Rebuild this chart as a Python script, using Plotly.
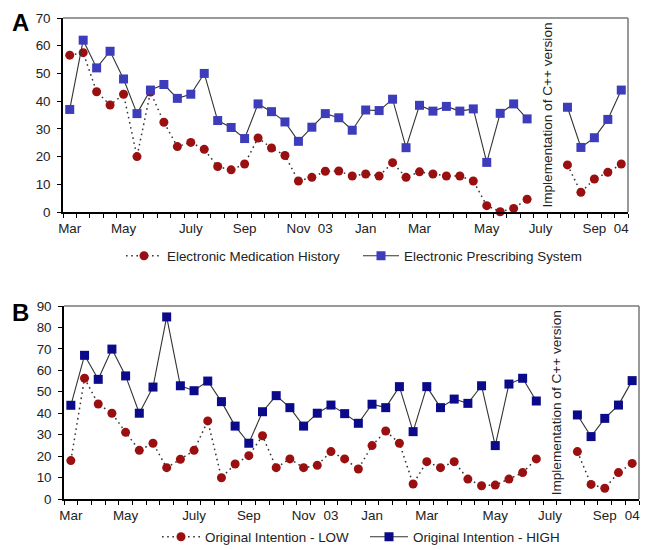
import plotly.graph_objects as go

idx = list(range(42))

# Panel A values (None = no data, the C++ implementation gap)
emh_A = [56.6, 57.5, 43.4, 38.6, 42.5, 20.0, 43.3, 32.4, 23.6, 25.1,
         22.6, 16.4, 15.2, 17.3, 26.7, 23.1, 20.4, 11.2, 12.5, 14.7,
         14.8, 13.0, 13.7, 13.0, 17.8, 12.5, 14.5, 13.7, 13.0, 13.0,
         11.2, 2.3, 0.1, 1.3, 4.6, None, None, 17.0, 7.1, 11.9,
         14.3, 17.3]
eps_A = [37.0, 62.0, 52.0, 58.0, 48.0, 35.5, 44.0, 46.0, 41.0, 42.5,
         50.0, 33.0, 30.5, 26.5, 39.0, 36.2, 32.5, 25.5, 30.6, 35.5,
         34.0, 29.5, 36.8, 36.6, 40.7, 23.2, 38.5, 36.4, 38.1, 36.4,
         37.2, 17.9, 35.6, 39.0, 33.6, None, None, 37.8, 23.3, 26.8,
         33.4, 44.0]

# Panel B values
low_B = [17.9, 56.3, 44.3, 40.0, 31.1, 22.7, 26.0, 14.6, 18.5, 22.7,
         36.4, 9.9, 16.3, 20.2, 29.5, 14.6, 18.7, 14.6, 15.7, 22.1,
         18.7, 14.0, 24.9, 31.7, 26.0, 7.0, 17.4, 14.6, 17.4, 9.3,
         6.2, 6.5, 9.3, 12.3, 18.7, None, None, 22.1, 6.8, 5.0,
         12.3, 16.6]
high_B = [43.7, 67.0, 55.8, 69.9, 57.4, 40.0, 52.2, 84.9, 52.8, 50.5,
          55.0, 45.4, 34.0, 26.0, 40.7, 48.2, 42.6, 34.0, 40.0, 43.8,
          39.8, 35.3, 44.2, 42.6, 52.4, 31.4, 52.4, 42.6, 46.6, 44.6,
          52.8, 24.9, 53.6, 56.3, 45.7, None, None, 39.2, 29.1, 37.6,
          43.8, 55.2]

tick_pos = [0, 4, 9, 13, 17, 19, 22, 26, 31, 35, 39, 41]
tick_text = ["Mar", "May", "July", "Sep", "Nov", "03", "Jan", "Mar", "May", "July", "Sep", "04"]

FONT = "Liberation Sans, Arial, sans-serif"
FS = 13.4
RED = "#9a0f0f"
BLUE_A = "#3d3dbb"
BLUE_B = "#0a0a8a"
DOT = "1.6px,3.6px"

# page body adds an 8px margin; figure is sized to fill the rest of the 648x550 window
OFF = 8
W, H = 648 - OFF, 550 - OFF


def px(x):
    return (x - OFF) / W


def py(y):
    return 1 - (y - OFF) / H


fig = go.Figure()

fig.add_trace(go.Scatter(x=idx, y=emh_A, name="Electronic Medication History",
                         mode="lines+markers", cliponaxis=False,
                         line=dict(color="#333333", width=1.5, dash=DOT),
                         marker=dict(symbol="circle", size=9, color=RED),
                         xaxis="x", yaxis="y", legend="legend"))
fig.add_trace(go.Scatter(x=idx, y=eps_A, name="Electronic Prescribing System",
                         mode="lines+markers", cliponaxis=False,
                         line=dict(color="#333333", width=1.1),
                         marker=dict(symbol="square", size=9, color=BLUE_A),
                         xaxis="x", yaxis="y", legend="legend"))
fig.add_trace(go.Scatter(x=idx, y=low_B, name="Original Intention - LOW",
                         mode="lines+markers", cliponaxis=False,
                         line=dict(color="#333333", width=1.5, dash=DOT),
                         marker=dict(symbol="circle", size=9, color=RED),
                         xaxis="x2", yaxis="y2", legend="legend2"))
fig.add_trace(go.Scatter(x=idx, y=high_B, name="Original Intention - HIGH",
                         mode="lines+markers", cliponaxis=False,
                         line=dict(color="#333333", width=1.1),
                         marker=dict(symbol="square", size=9, color=BLUE_B),
                         xaxis="x2", yaxis="y2", legend="legend2"))

xcommon = dict(range=[-0.5, 41.5], tickmode="array", tickvals=tick_pos, ticktext=tick_text,
               ticks="", showgrid=False, zeroline=False, showline=True, linecolor="#000000",
               linewidth=1.5, tickfont=dict(family=FONT, size=FS, color="#222222"),
               ticklabelstandoff=3, automargin=False,
               minor=dict(tick0=-0.5, dtick=1, ticks="outside", ticklen=4,
                          tickcolor="#000000", tickwidth=1, showgrid=False))
ycommon = dict(showgrid=False, zeroline=False, showline=True, linecolor="#000000",
               linewidth=1.5, ticks="outside", ticklen=4, tickcolor="#000000",
               automargin=False, ticklabelstandoff=4,
               tickfont=dict(family=FONT, size=FS, color="#222222"), dtick=10)

legfont = dict(family=FONT, size=FS, color="#222222")

fig.update_layout(
    template="none",
    width=W, height=H,
    margin=dict(l=0, r=0, t=0, b=0, autoexpand=False),
    paper_bgcolor="white", plot_bgcolor="white",
    xaxis=dict(domain=[px(63), px(628)], anchor="y", **xcommon),
    yaxis=dict(domain=[py(212), py(18)], anchor="x", range=[0, 70], **ycommon),
    xaxis2=dict(domain=[px(64), px(639)], anchor="y2", **xcommon),
    yaxis2=dict(domain=[py(499), py(306)], anchor="x2", range=[0, 90], **ycommon),
    legend=dict(orientation="h", x=px(121), xanchor="left", y=py(256), yanchor="middle",
                itemwidth=36, entrywidth=186, font=legfont, bgcolor="rgba(0,0,0,0)"),
    legend2=dict(orientation="h", x=px(157), xanchor="left", y=py(537), yanchor="middle",
                 itemwidth=38, entrywidth=155, font=legfont, bgcolor="rgba(0,0,0,0)"),
    showlegend=True,
)

# grey frame on top and right
for xr, yr in (("x domain", "y domain"), ("x2 domain", "y2 domain")):
    fig.add_shape(type="line", xref=xr, yref=yr, x0=0, x1=1, y0=1, y1=1,
                  line=dict(color="#777777", width=1.5))
    fig.add_shape(type="line", xref=xr, yref=yr, x0=1, x1=1, y0=0, y1=1,
                  line=dict(color="#777777", width=1.5))

fig.add_annotation(text="Implementation of C++ version", x=35.45, xref="x",
                   y=0.5, yref="y domain", textangle=-90, showarrow=False,
                   xanchor="center", yanchor="middle",
                   font=dict(family=FONT, size=13.6, color="#222222"))
fig.add_annotation(text="Implementation of C++ version", x=35.5, xref="x2",
                   y=0.5, yref="y2 domain", textangle=-90, showarrow=False,
                   xanchor="center", yanchor="middle",
                   font=dict(family=FONT, size=13.6, color="#222222"))

fig.add_annotation(text="<b>A</b>", x=px(20), y=py(23), xref="paper", yref="paper",
                   xanchor="center", yanchor="middle",
                   showarrow=False, font=dict(family=FONT, size=24, color="#000000"))
fig.add_annotation(text="<b>B</b>", x=px(20), y=py(312), xref="paper", yref="paper",
                   xanchor="center", yanchor="middle",
                   showarrow=False, font=dict(family=FONT, size=24, color="#000000"))

fig.write_html("out.html")
